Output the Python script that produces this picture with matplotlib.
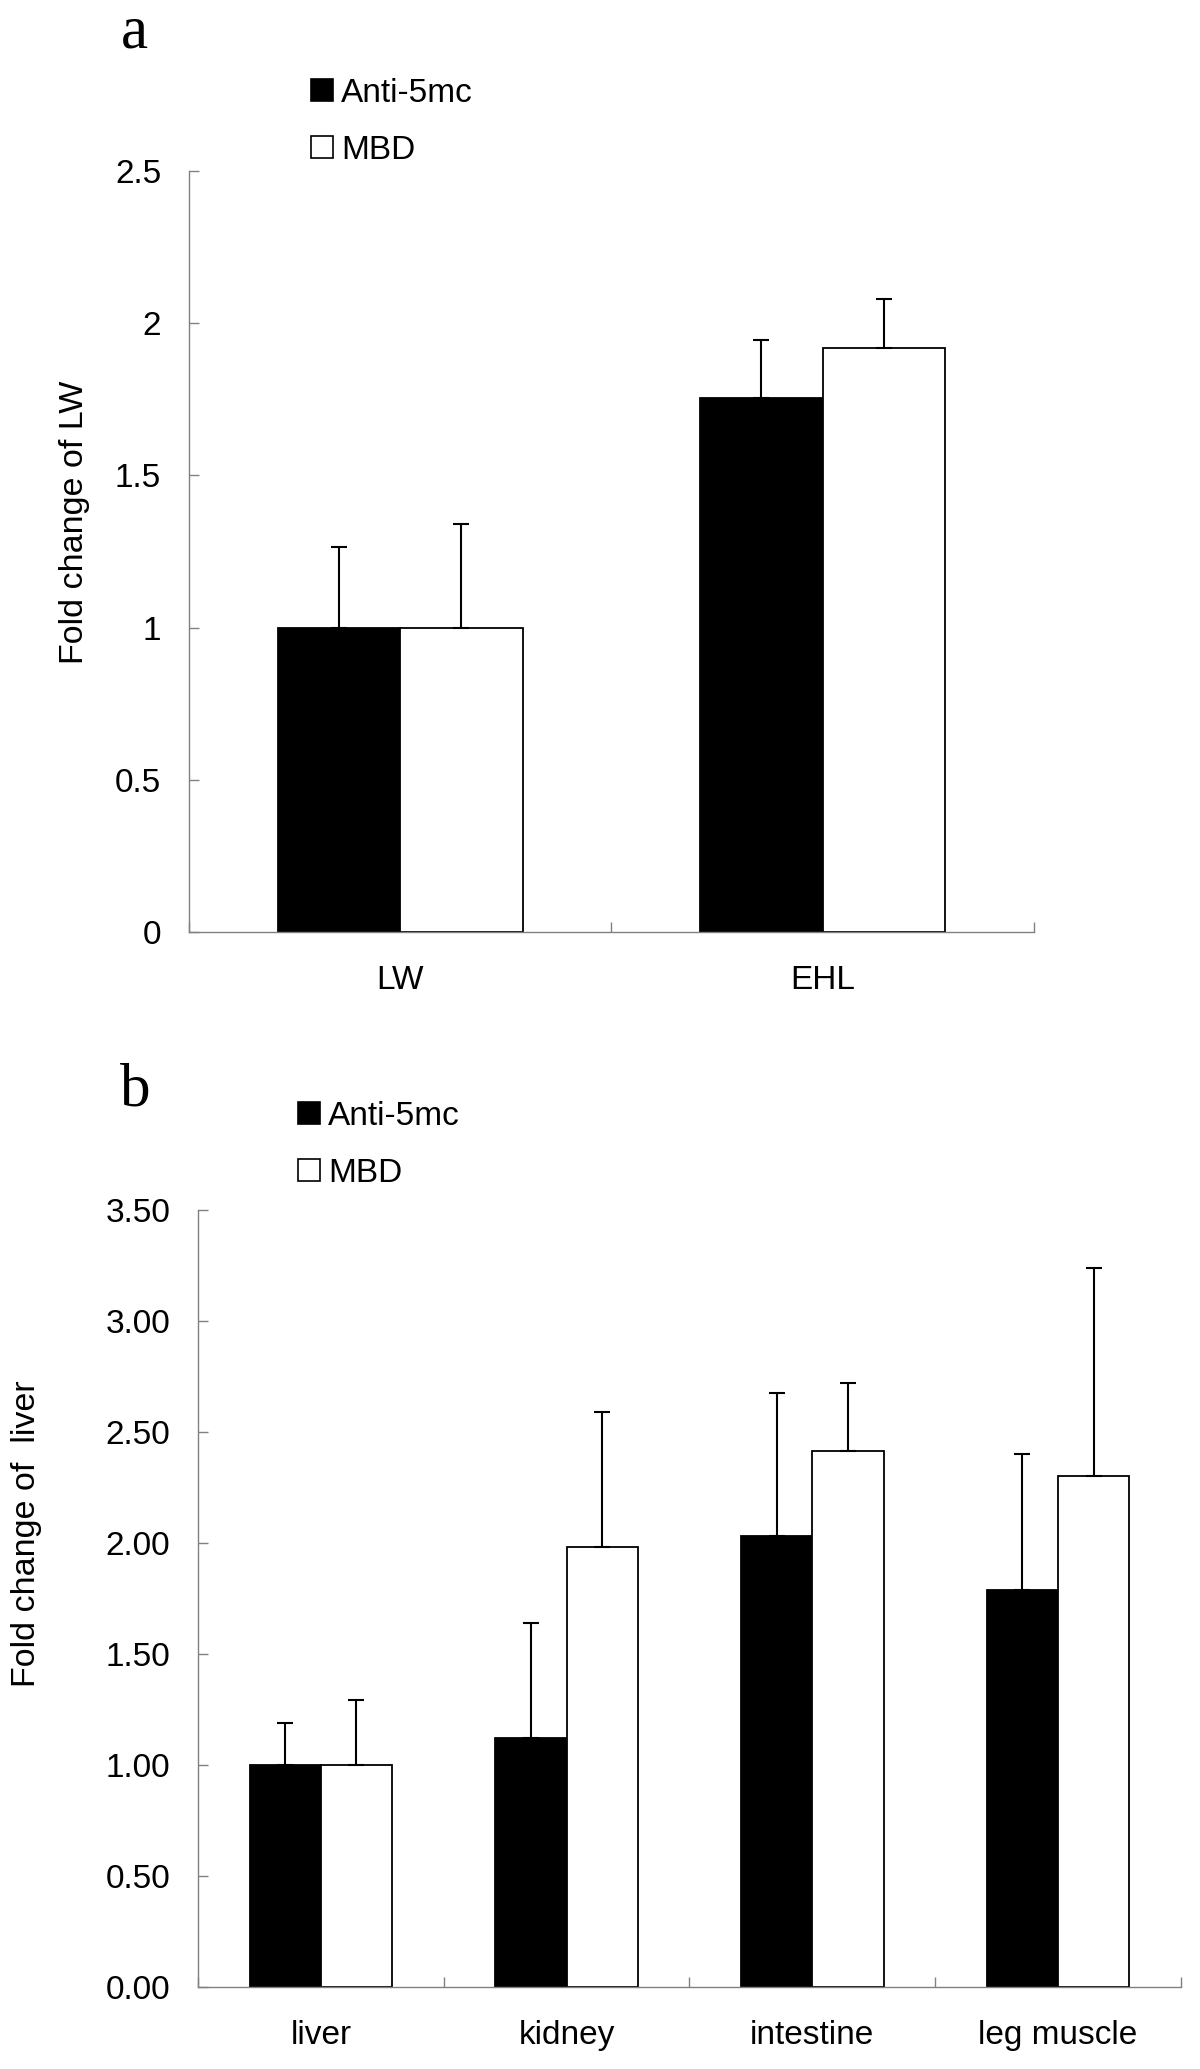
import matplotlib
matplotlib.use("Agg")
import matplotlib.pyplot as plt
import numpy as np
from matplotlib.patches import Patch
from matplotlib.ticker import FuncFormatter

plt.rcParams['font.family'] = ['Liberation Sans', 'DejaVu Sans']

# panel a data
cats_a = ['LW', 'EHL']
anti_a = [1.00, 1.755]
anti_a_err = [0.265, 0.19]
mbd_a = [1.00, 1.92]
mbd_a_err = [0.34, 0.16]

# panel b data
cats_b = ['liver', 'kidney', 'intestine', 'leg muscle']
anti_b = [1.00, 1.12, 2.03, 1.79]
anti_b_err = [0.19, 0.52, 0.645, 0.61]
mbd_b = [1.00, 1.98, 2.415, 2.30]
mbd_b_err = [0.295, 0.61, 0.305, 0.94]

FS = 24
GRAY = '#808080'
W = 0.29


def draw_panel(ax, cats, anti, anti_err, mbd, mbd_err, ymax, step, fmt):
    x = np.arange(len(cats))
    ax.bar(x - W / 2, anti, W, color='black', edgecolor='black', linewidth=1.3, zorder=2)
    ax.bar(x + W / 2, mbd, W, color='white', edgecolor='black', linewidth=1.3, zorder=2)
    ax.errorbar(x - W / 2, anti, yerr=[np.zeros(len(x)), anti_err], fmt='none',
                ecolor='black', elinewidth=1.5, capsize=5.5, capthick=1.5, zorder=3)
    ax.errorbar(x + W / 2, mbd, yerr=[np.zeros(len(x)), mbd_err], fmt='none',
                ecolor='black', elinewidth=1.5, capsize=5.5, capthick=1.5, zorder=3)

    ax.set_xlim(-0.5, len(cats) - 0.5)
    ax.set_ylim(0, ymax)
    ax.set_yticks(np.arange(0, ymax + step / 2, step))
    ax.yaxis.set_major_formatter(FuncFormatter(lambda v, p: fmt % v))
    ax.set_xticks(x)
    ax.set_xticklabels(cats)
    ax.set_xticks(np.arange(-0.5, len(cats), 1.0), minor=True)

    for s in ['top', 'right']:
        ax.spines[s].set_visible(False)
    for s in ['left', 'bottom']:
        ax.spines[s].set_color(GRAY)
        ax.spines[s].set_linewidth(1.0)

    ax.tick_params(axis='y', direction='in', length=7, width=1, color=GRAY,
                   labelsize=FS, pad=20)
    ax.tick_params(axis='x', which='major', length=0, labelsize=FS, pad=24)
    ax.tick_params(axis='x', which='minor', direction='in', length=7, width=1, color=GRAY)


fig = plt.figure(figsize=(12, 20.69), dpi=100)

ax_a = fig.add_axes([0.1575, 0.5495, 0.704, 0.3678])
draw_panel(ax_a, cats_a, anti_a, anti_a_err, mbd_a, mbd_a_err, 2.5, 0.5, '%g')
ax_a.set_ylabel('Fold change of LW', fontsize=24.5)
ax_a.yaxis.label.set_va('center')
ax_a.yaxis.set_label_coords(-0.136, 0.539)

ax_b = fig.add_axes([0.165, 0.0396, 0.819, 0.3756])
draw_panel(ax_b, cats_b, anti_b, anti_b_err, mbd_b, mbd_b_err, 3.5, 0.5, '%.2f')
ax_b.set_ylabel('Fold change of  liver', fontsize=24.5)
ax_b.yaxis.label.set_va('center')
ax_b.yaxis.set_label_coords(-0.174, 0.583)

handles = [Patch(facecolor='black', edgecolor='black', linewidth=1.2),
           Patch(facecolor='white', edgecolor='black', linewidth=1.2)]
labels = ['Anti-5mc', 'MBD']
for anchor in [(311 / 1200, 1 - 78 / 2069), (298 / 1200, 1 - 1101 / 2069)]:
    fig.legend(handles, labels, loc='upper left', bbox_to_anchor=anchor,
               frameon=False, fontsize=FS, handlelength=0.65, handleheight=0.65,
               handletextpad=0.25, labelspacing=0.78, borderpad=0, borderaxespad=0)

fig.text(121 / 1200, 1 - 47 / 2069, 'a', family='Liberation Serif', fontsize=44,
         ha='left', va='baseline')
fig.text(120 / 1200, 1 - 1105 / 2069, 'b', family='Liberation Serif', fontsize=44,
         ha='left', va='baseline')

fig.savefig('out.png', dpi=100)
